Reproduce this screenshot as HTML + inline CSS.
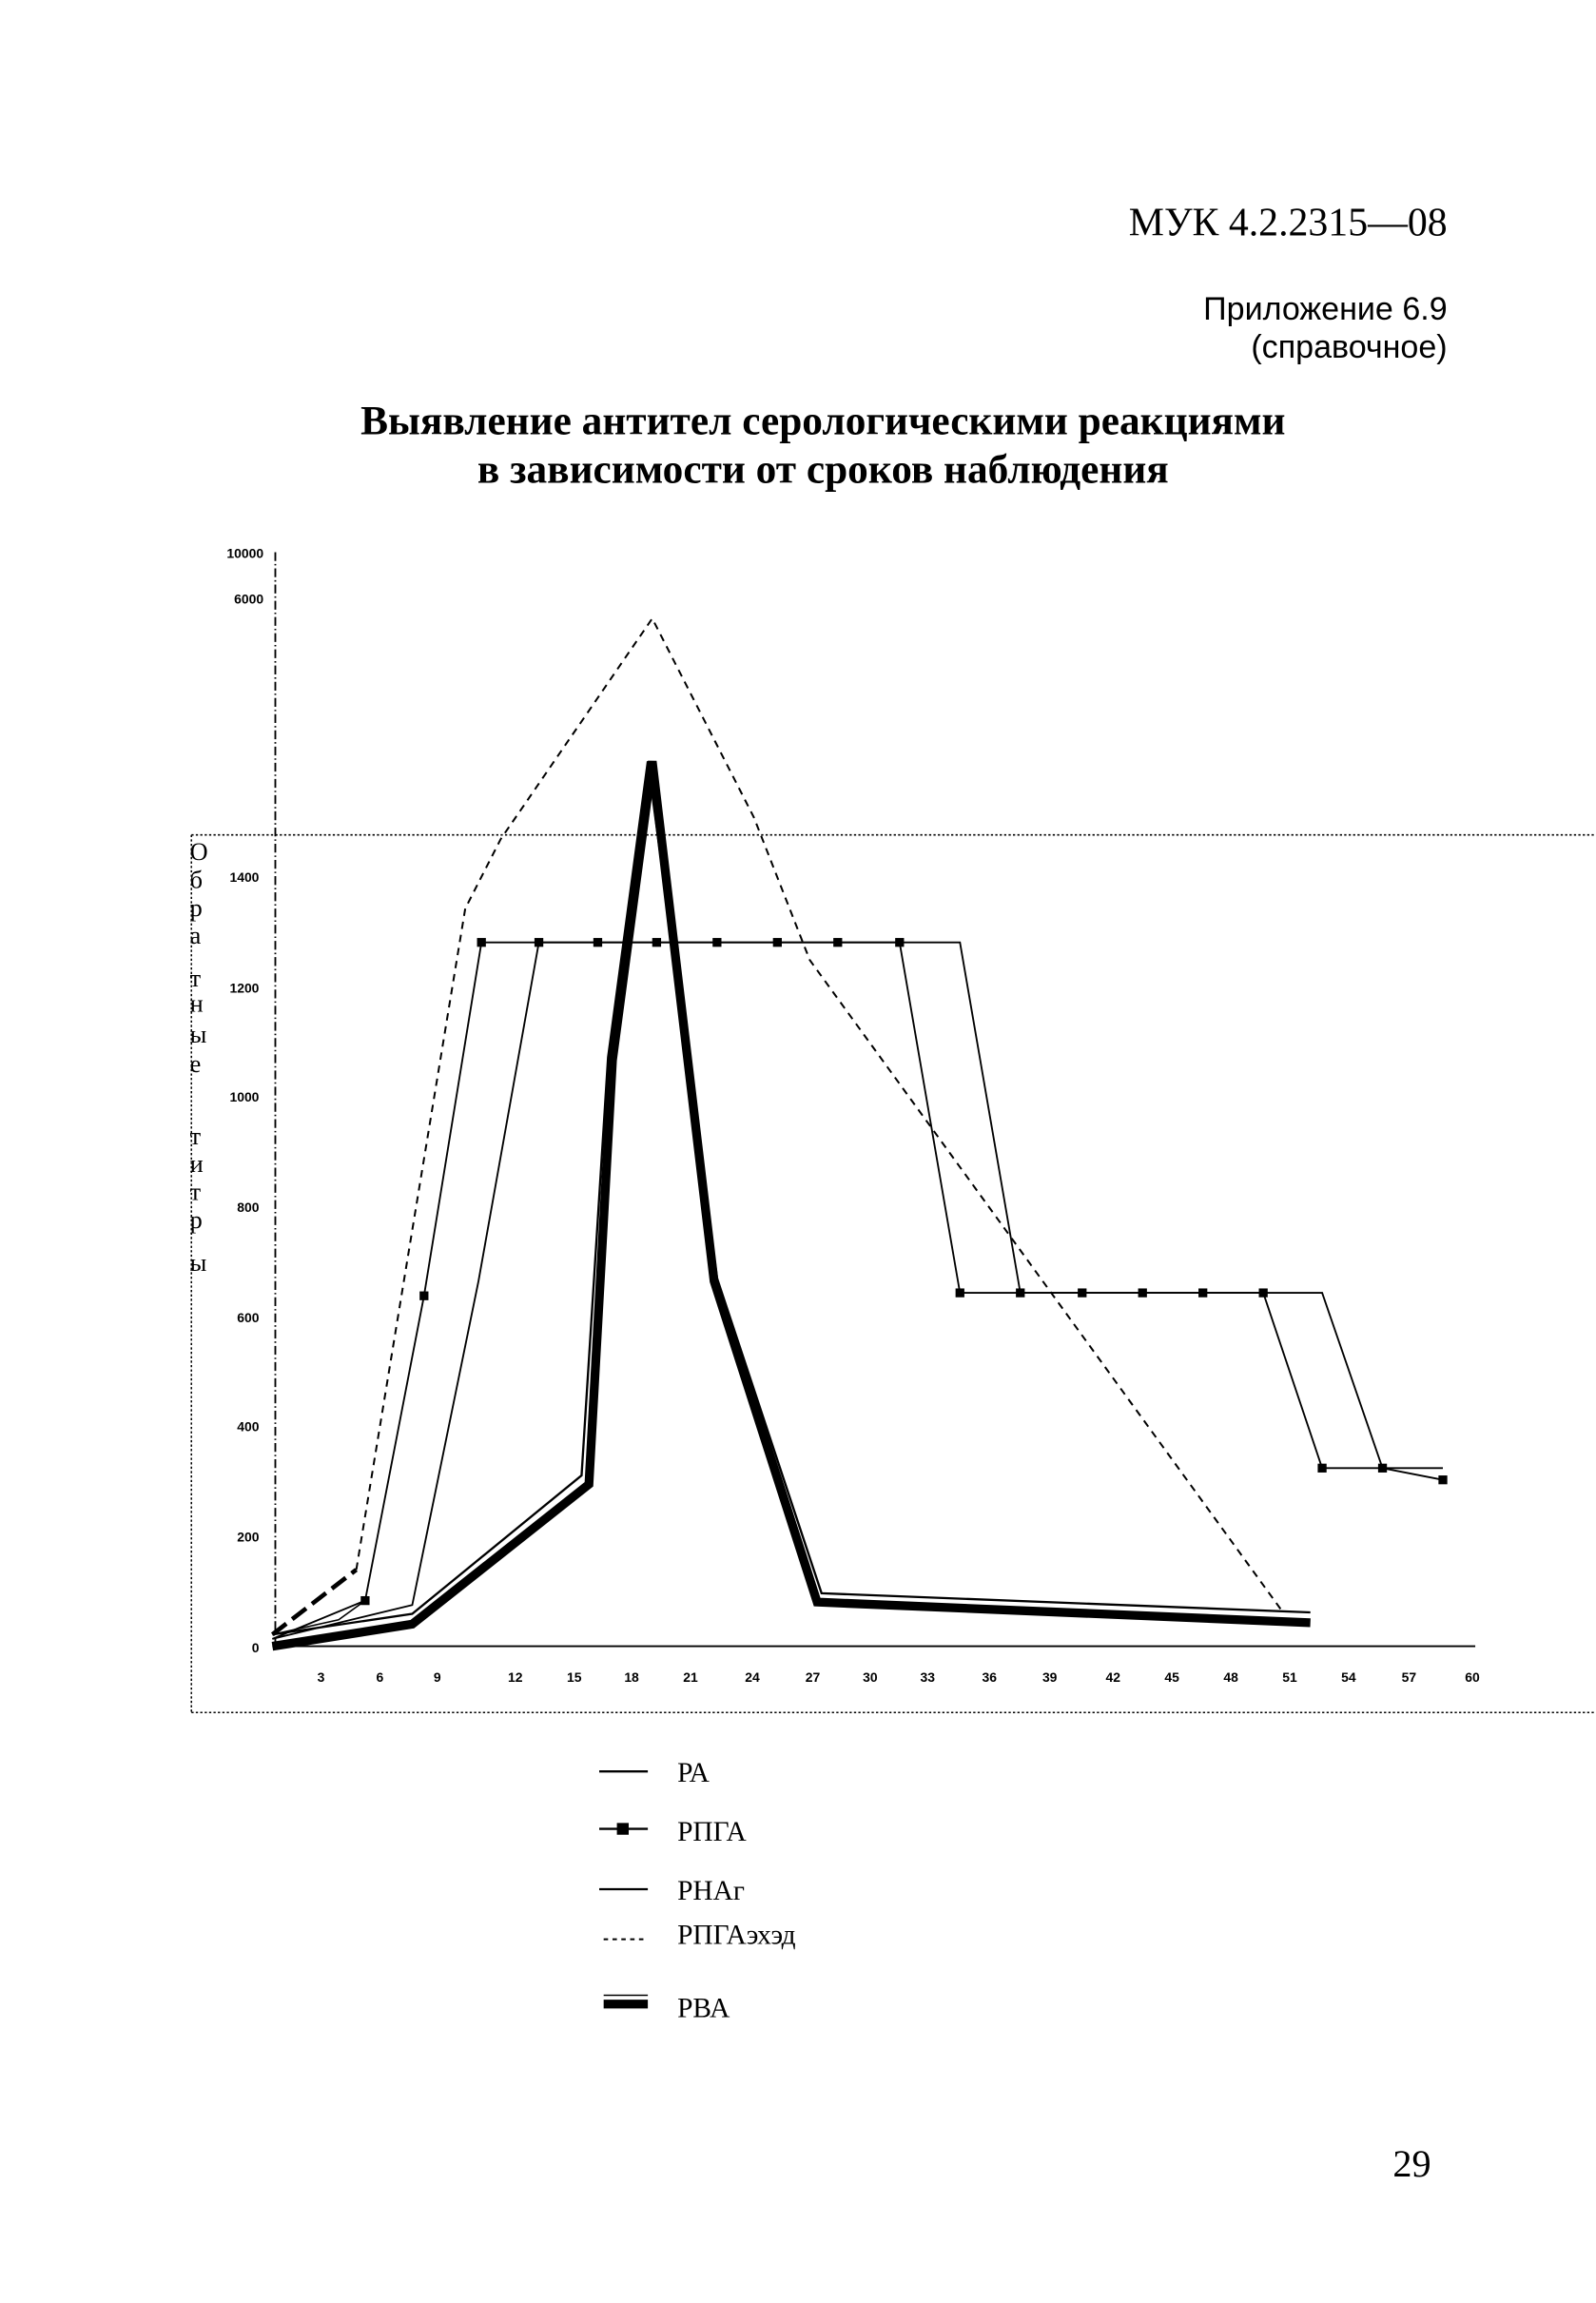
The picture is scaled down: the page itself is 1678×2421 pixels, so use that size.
<!DOCTYPE html>
<html><head><meta charset="utf-8"><style>html,body{margin:0;padding:0;background:#fff}svg{display:block}</style></head><body>
<svg width="1678" height="2421" viewBox="0 0 1084 1564" preserveAspectRatio="none" xmlns="http://www.w3.org/2000/svg">
<g font-family="Liberation Serif, serif" fill="#000">
<text x="983" y="160" font-size="27" text-anchor="end">МУК 4.2.2315—08</text>
<text x="983" y="217" font-size="22" text-anchor="end" font-family="Liberation Sans, sans-serif">Приложение 6.9</text>
<text x="983" y="243" font-size="22" text-anchor="end" font-family="Liberation Sans, sans-serif">(справочное)</text>
<text x="559" y="295" font-size="28" font-weight="bold" text-anchor="middle">Выявление антител серологическими реакциями</text>
<text x="559" y="328" font-size="28" font-weight="bold" text-anchor="middle">в зависимости от сроков наблюдения</text>
<text x="972" y="1478" font-size="26" text-anchor="end">29</text>
</g>
<g fill="none" stroke="#000">
<line x1="130" y1="567" x2="1084" y2="567" stroke-width="1" stroke-dasharray="1.5,1.5"/>
<line x1="130" y1="567" x2="130" y2="1163" stroke-width="1" stroke-dasharray="1.5,1.5"/>
<line x1="130" y1="1163" x2="1084" y2="1163" stroke-width="1" stroke-dasharray="1.5,1.5"/>
<line x1="187" y1="375" x2="187" y2="1118" stroke-width="1.2" stroke-dasharray="6,2,1,2"/>
<line x1="185" y1="1118" x2="1002" y2="1118" stroke-width="1.2"/>
</g>
<g font-family="Liberation Sans, sans-serif" font-size="9" font-weight="bold" text-anchor="end">
<text x="179" y="379">10000</text><text x="179" y="410">6000</text>
<text x="176" y="599">1400</text><text x="176" y="674">1200</text><text x="176" y="748">1000</text>
<text x="176" y="823">800</text><text x="176" y="898">600</text><text x="176" y="972">400</text>
<text x="176" y="1047">200</text><text x="176" y="1122">0</text>
</g>
<g font-family="Liberation Sans, sans-serif" font-size="9" font-weight="bold" text-anchor="middle">
<text x="218" y="1142">3</text><text x="258" y="1142">6</text><text x="297" y="1142">9</text><text x="350" y="1142">12</text><text x="390" y="1142">15</text><text x="429" y="1142">18</text><text x="469" y="1142">21</text><text x="511" y="1142">24</text><text x="552" y="1142">27</text><text x="591" y="1142">30</text><text x="630" y="1142">33</text><text x="672" y="1142">36</text><text x="713" y="1142">39</text><text x="756" y="1142">42</text><text x="796" y="1142">45</text><text x="836" y="1142">48</text><text x="876" y="1142">51</text><text x="916" y="1142">54</text><text x="957" y="1142">57</text><text x="1000" y="1142">60</text>
</g>
<g font-family="Liberation Serif, serif" font-size="17">
<text x="129" y="584">О</text><text x="129" y="603">б</text><text x="129" y="622">р</text><text x="129" y="641">а</text><text x="129" y="670">т</text><text x="129" y="687">н</text><text x="129" y="708">ы</text><text x="129" y="728">е</text><text x="129" y="777">т</text><text x="129" y="796">и</text><text x="129" y="815">т</text><text x="129" y="834">р</text><text x="129" y="863">ы</text>
</g>
<g fill="none" stroke="#000" stroke-linejoin="miter">
<polyline points="185,1110 242,1066" stroke-width="3" stroke-dasharray="12,5"/>
<polyline points="242,1066 316,617 340,570 443,420 512,555 550,652 870,1093" stroke-width="1.3" stroke-dasharray="5,4"/>
<polyline points="185,1113 248,1087 288,880 327,640 611,640 652,878 858,878 898,997 939,997 980,1005" stroke-width="1.2"/>
<polyline points="185,1113 280,1090 325,870 366,640 652,640 693,878 898,878 939,997 980,997" stroke-width="1.2"/>
<polyline points="185,1110 230,1100 248,1087" stroke-width="1"/>
<polyline points="185,1110 280,1096 395,1002 413,718 440,517 487,868 558,1082 890,1095" stroke-width="1.5"/>
<polyline points="185,1118 280,1103 400,1008 416,720 443,517 485,870 555,1088 890,1102" stroke-width="6"/>
</g>
<g fill="#000">
<rect x="245" y="1084" width="6" height="6"/><rect x="285" y="877" width="6" height="6"/>
<rect x="324" y="637" width="6" height="6"/><rect x="363" y="637" width="6" height="6"/><rect x="403" y="637" width="6" height="6"/><rect x="443" y="637" width="6" height="6"/><rect x="484" y="637" width="6" height="6"/><rect x="525" y="637" width="6" height="6"/><rect x="566" y="637" width="6" height="6"/><rect x="608" y="637" width="6" height="6"/>
<rect x="649" y="875" width="6" height="6"/><rect x="690" y="875" width="6" height="6"/><rect x="732" y="875" width="6" height="6"/><rect x="773" y="875" width="6" height="6"/><rect x="814" y="875" width="6" height="6"/><rect x="855" y="875" width="6" height="6"/>
<rect x="895" y="994" width="6" height="6"/><rect x="936" y="994" width="6" height="6"/><rect x="977" y="1002" width="6" height="6"/>
</g>
<g stroke="#000" fill="none">
<line x1="407" y1="1203" x2="440" y2="1203" stroke-width="1.5"/>
<line x1="407" y1="1242" x2="440" y2="1242" stroke-width="1.5"/>
<line x1="407" y1="1283" x2="440" y2="1283" stroke-width="1.5"/>
<line x1="410" y1="1317" x2="440" y2="1317" stroke-width="1.3" stroke-dasharray="3,3"/>
<line x1="410" y1="1355" x2="440" y2="1355" stroke-width="1"/>
<line x1="410" y1="1361" x2="440" y2="1361" stroke-width="6"/>
</g>
<rect x="419" y="1238" width="8" height="8" fill="#000"/>
<g font-family="Liberation Serif, serif" font-size="19">
<text x="460" y="1210">РА</text><text x="460" y="1250">РПГА</text><text x="460" y="1290">РНАг</text><text x="460" y="1320">РПГАэхэд</text><text x="460" y="1370">РВА</text>
</g>
</svg>
</body></html>
